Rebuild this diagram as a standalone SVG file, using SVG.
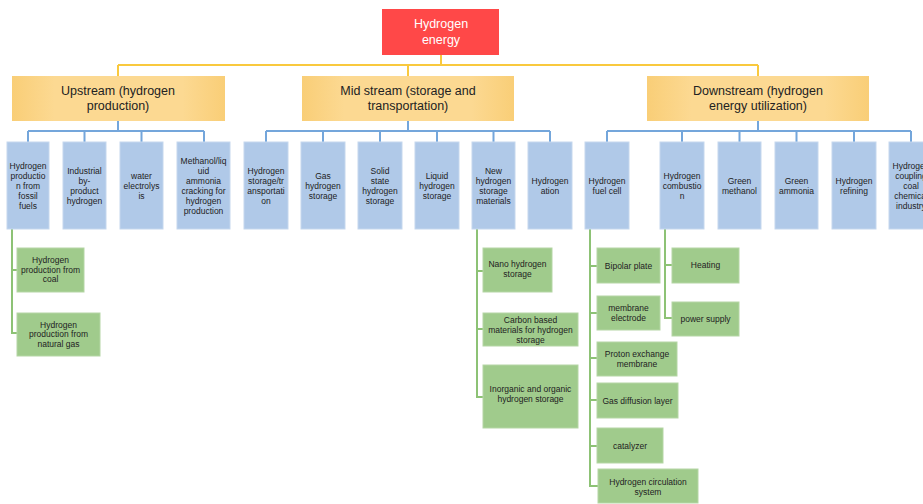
<svg xmlns="http://www.w3.org/2000/svg" width="923" height="504" viewBox="0 0 923 504">
<defs>
<linearGradient id="og" x1="0" y1="0" x2="1" y2="0">
<stop offset="0" stop-color="#F9CE77"/>
<stop offset="0.2" stop-color="#FCD992"/>
<stop offset="0.8" stop-color="#FCD992"/>
<stop offset="1" stop-color="#F9CE77"/>
</linearGradient>
</defs>
<style>
text{font-family:"Liberation Sans",Arial,sans-serif;text-anchor:middle}
.root rect{fill:#FF4848}
.root text{fill:#fff;font-size:12.5px}
.mid rect{fill:url(#og)}
.mid text{fill:#222;font-size:12.5px}
.blue rect{fill:#B0C9E8;stroke:#C5D7EE;stroke-width:1}
.blue text{fill:#222;font-size:8.5px}
.green rect{fill:#A0CB8C;stroke:#B5D6A5;stroke-width:1}
.green text{fill:#222;font-size:8.5px}
.cy{fill:none;stroke:#F9C93E;stroke-width:2}
.cb{fill:none;stroke:#74A6DB;stroke-width:2}
.cg{fill:none;stroke:#8DC275;stroke-width:2}
</style>
<rect width="923" height="504" fill="#fff"/>
<g id="connectors">
<path class="cy" d="M441 55V65M118 65H758M118 65V76M408 65V76M758 65V76"/>
<path class="cb" d="M118 121V131M28 131H204M28 131V142M84.5 131V142M141.5 131V142M204 131V142"/>
<path class="cb" d="M408 121V131M266 131H550M266 131V142M323 131V142M380 131V142M437 131V142M493.5 131V142M550 131V142"/>
<path class="cb" d="M758 121V131M607 131H911M607 131V142M682 131V142M739.5 131V142M796.5 131V142M854 131V142M911 131V142"/>
<path class="cg" d="M12 229V333H17M12 270H17"/>
<path class="cg" d="M477 229V397H483M477 271H483M477 329H483"/>
<path class="cg" d="M590 229V486H598M590 266H597M590 313H597M590 358H597M590 400H597M590 446H597"/>
<path class="cg" d="M665 229V318H672M665 265H672"/>
</g>
<g id="n-root" class="root"><rect x="382" y="9" width="117" height="46"/><text x="441" y="28">Hydrogen</text><text x="441" y="44">energy</text></g>
<g id="n-up" class="mid"><rect x="12" y="76" width="213" height="45"/><text x="118" y="95">Upstream (hydrogen</text><text x="118" y="110">production)</text></g>
<g id="n-midstream" class="mid"><rect x="302" y="76" width="212" height="45"/><text x="408" y="95">Mid stream (storage and</text><text x="408" y="110">transportation)</text></g>
<g id="n-down" class="mid"><rect x="647" y="76" width="222" height="45"/><text x="758" y="95">Downstream (hydrogen</text><text x="758" y="110">energy utilization)</text></g>

<g id="b1" class="blue"><rect x="7" y="142" width="42" height="87"/><text x="28" y="169">Hydrogen</text><text x="28" y="179">productio</text><text x="28" y="189">n from</text><text x="28" y="199">fossil</text><text x="28" y="209">fuels</text></g>
<g id="b2" class="blue"><rect x="63" y="142" width="43" height="87"/><text x="84.5" y="174">Industrial</text><text x="84.5" y="184">by-</text><text x="84.5" y="194">product</text><text x="84.5" y="204">hydrogen</text></g>
<g id="b3" class="blue"><rect x="120" y="142" width="43" height="87"/><text x="141.5" y="179">water</text><text x="141.5" y="189">electrolys</text><text x="141.5" y="199">is</text></g>
<g id="b4" class="blue"><rect x="177" y="142" width="53" height="87"/><text x="203.5" y="164">Methanol/liq</text><text x="203.5" y="174">uid</text><text x="203.5" y="184">ammonia</text><text x="203.5" y="194">cracking for</text><text x="203.5" y="204">hydrogen</text><text x="203.5" y="214">production</text></g>
<g id="b5" class="blue"><rect x="244" y="142" width="44" height="87"/><text x="266" y="174">Hydrogen</text><text x="266" y="184">storage/tr</text><text x="266" y="194">ansportati</text><text x="266" y="204">on</text></g>
<g id="b6" class="blue"><rect x="301" y="142" width="44" height="87"/><text x="323" y="179">Gas</text><text x="323" y="189">hydrogen</text><text x="323" y="199">storage</text></g>
<g id="b7" class="blue"><rect x="358" y="142" width="44" height="87"/><text x="380" y="174">Solid</text><text x="380" y="184">state</text><text x="380" y="194">hydrogen</text><text x="380" y="204">storage</text></g>
<g id="b8" class="blue"><rect x="415" y="142" width="44" height="87"/><text x="437" y="179">Liquid</text><text x="437" y="189">hydrogen</text><text x="437" y="199">storage</text></g>
<g id="b9" class="blue"><rect x="472" y="142" width="43" height="87"/><text x="493.5" y="174">New</text><text x="493.5" y="184">hydrogen</text><text x="493.5" y="194">storage</text><text x="493.5" y="204">materials</text></g>
<g id="b10" class="blue"><rect x="528" y="142" width="44" height="87"/><text x="550" y="184">Hydrogen</text><text x="550" y="194">ation</text></g>
<g id="b11" class="blue"><rect x="585" y="142" width="44" height="87"/><text x="607" y="184">Hydrogen</text><text x="607" y="194">fuel cell</text></g>
<g id="b12" class="blue"><rect x="660" y="142" width="44" height="87"/><text x="682" y="179">Hydrogen</text><text x="682" y="189">combustio</text><text x="682" y="199">n</text></g>
<g id="b13" class="blue"><rect x="718" y="142" width="43" height="87"/><text x="739.5" y="184">Green</text><text x="739.5" y="194">methanol</text></g>
<g id="b14" class="blue"><rect x="775" y="142" width="43" height="87"/><text x="796.5" y="184">Green</text><text x="796.5" y="194">ammonia</text></g>
<g id="b15" class="blue"><rect x="832" y="142" width="44" height="87"/><text x="854" y="184">Hydrogen</text><text x="854" y="194">refining</text></g>
<g id="b16" class="blue"><rect x="889" y="142" width="44" height="87"/><text x="911" y="169">Hydrogen</text><text x="911" y="179">coupling</text><text x="911" y="189">coal</text><text x="911" y="199">chemical</text><text x="911" y="209">industry</text></g>

<g id="g1" class="green"><rect x="17" y="248" width="67" height="44"/><text x="50.5" y="263">Hydrogen</text><text x="50.5" y="273">production from</text><text x="50.5" y="282">coal</text></g>
<g id="g2" class="green"><rect x="17" y="313" width="83" height="43"/><text x="58.5" y="328">Hydrogen</text><text x="58.5" y="337">production from</text><text x="58.5" y="347">natural gas</text></g>
<g id="g3" class="green"><rect x="483" y="248" width="69" height="44"/><text x="517.5" y="267">Nano hydrogen</text><text x="517.5" y="277">storage</text></g>
<g id="g4" class="green"><rect x="483" y="313" width="95" height="33"/><text x="530.5" y="323">Carbon based</text><text x="530.5" y="333">materials for hydrogen</text><text x="530.5" y="343">storage</text></g>
<g id="g5" class="green"><rect x="483" y="365" width="95" height="63"/><text x="530.5" y="392">Inorganic and organic</text><text x="530.5" y="402">hydrogen storage</text></g>
<g id="g6" class="green"><rect x="597" y="248" width="63" height="35"/><text x="628.5" y="269">Bipolar plate</text></g>
<g id="g7" class="green"><rect x="597" y="296" width="63" height="34"/><text x="628.5" y="311">membrane</text><text x="628.5" y="321">electrode</text></g>
<g id="g8" class="green"><rect x="597" y="342" width="80" height="34"/><text x="637" y="357">Proton exchange</text><text x="637" y="367">membrane</text></g>
<g id="g9" class="green"><rect x="597" y="383" width="81" height="35"/><text x="637.5" y="404">Gas diffusion layer</text></g>
<g id="g10" class="green"><rect x="597" y="428" width="66" height="35"/><text x="630" y="449">catalyzer</text></g>
<g id="g11" class="green"><rect x="598" y="469" width="100" height="34"/><text x="648" y="485">Hydrogen circulation</text><text x="648" y="495">system</text></g>
<g id="g12" class="green"><rect x="672" y="248" width="67" height="35"/><text x="705.5" y="268">Heating</text></g>
<g id="g13" class="green"><rect x="672" y="302" width="67" height="34"/><text x="705.5" y="322">power supply</text></g>
</svg>
